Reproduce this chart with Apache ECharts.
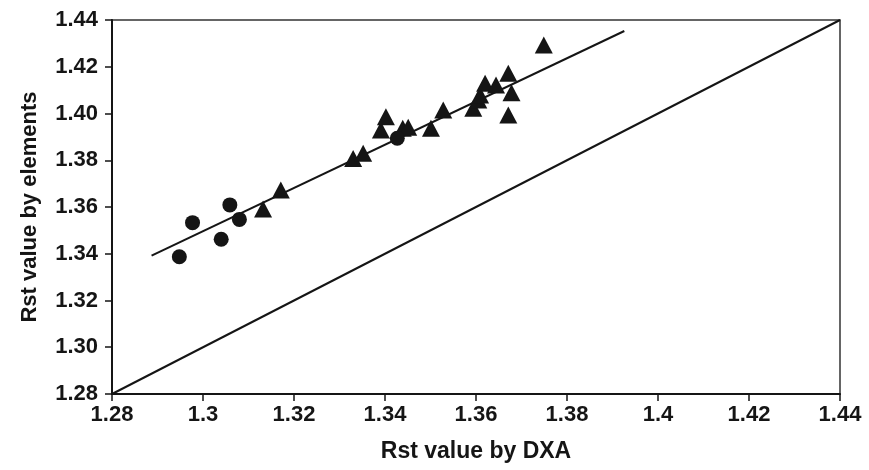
<!DOCTYPE html>
<html><head><meta charset="utf-8">
<script src="https://cdn.jsdelivr.net/npm/echarts@6/dist/echarts.min.js"></script>
<style>html,body{margin:0;padding:0;background:#fff}#c{width:869px;height:470px}</style>
</head><body><div id="c"></div>
<script>
// Circle group (x = DXA, y = elements)
const circleX = [1.2948, 1.2977, 1.3040, 1.3059, 1.3080, 1.3427];
const circleY = [1.3387, 1.3533, 1.3462, 1.3609, 1.3547, 1.3894];
// Triangle group
const triX = [1.3132, 1.3171, 1.3330, 1.3352, 1.3391, 1.3402, 1.3439, 1.3451, 1.3501, 1.3528,
              1.3594, 1.3605, 1.3609, 1.3620, 1.3644, 1.3671, 1.3678, 1.3671, 1.3749];
const triY = [1.3591, 1.3673, 1.3808, 1.3830, 1.3929, 1.3986, 1.3937, 1.3941, 1.3937, 1.4015,
              1.4022, 1.4058, 1.4079, 1.4129, 1.4122, 1.4172, 1.4089, 1.3994, 1.4293];
// Regression line endpoints
const fitX = [1.2887, 1.3926];
const fitY = [1.3392, 1.4353];
// Identity line endpoints
const idX = [1.28, 1.44];
const idY = [1.28, 1.44];
// Tick labels
const xTickLabels = ['1.28','1.3','1.32','1.34','1.36','1.38','1.4','1.42','1.44'];
const yTickLabels = ['1.28','1.30','1.32','1.34','1.36','1.38','1.40','1.42','1.44'];
const xTitle = 'Rst value by DXA';
const yTitle = 'Rst value by elements';

const zip = (a, b) => a.map((v, i) => [v, b[i]]);
const tickIdx = (v) => Math.round((v - 1.28) / 0.02);
const font = '"Liberation Sans", Arial, sans-serif';
const ink = '#151515';

const chart = echarts.init(document.getElementById('c'), null, {renderer: 'canvas'});
chart.setOption({
  animation: false,
  backgroundColor: '#fff',
  grid: {left: 112, right: 29, top: 20, bottom: 76, show: true, borderColor: '#333', borderWidth: 1.5, backgroundColor: 'transparent'},
  xAxis: {
    type: 'value', min: 1.28, max: 1.44, interval: 0.02,
    name: xTitle, nameLocation: 'middle', nameGap: 46,
    nameTextStyle: {fontFamily: font, fontWeight: 'bold', fontSize: 23, color: ink},
    axisLine: {show: true, lineStyle: {color: ink, width: 2}},
    axisTick: {show: true, inside: false, length: 7, lineStyle: {color: ink, width: 1.5}},
    axisLabel: {margin: 10, fontFamily: font, fontWeight: 'bold', fontSize: 22, color: ink,
      formatter: (v) => xTickLabels[tickIdx(v)]},
    splitLine: {show: false}
  },
  yAxis: {
    type: 'value', min: 1.28, max: 1.44, interval: 0.02,
    name: yTitle, nameLocation: 'middle', nameGap: 71, nameRotate: 90,
    nameTextStyle: {fontFamily: font, fontWeight: 'bold', fontSize: 22, color: ink},
    axisLine: {show: true, lineStyle: {color: ink, width: 2}},
    axisTick: {show: true, inside: false, length: 7, lineStyle: {color: ink, width: 1.5}},
    axisLabel: {margin: 14, fontFamily: font, fontWeight: 'bold', fontSize: 22, color: ink,
      formatter: (v) => yTickLabels[tickIdx(v)]},
    splitLine: {show: false}
  },
  series: [
    {type: 'line', data: zip(idX, idY), symbol: 'none', lineStyle: {color: ink, width: 2}, z: 2},
    {type: 'line', data: zip(fitX, fitY), symbol: 'none', lineStyle: {color: ink, width: 2}, z: 2},
    {type: 'scatter', data: zip(triX, triY), symbol: 'triangle', symbolSize: [18, 17],
      itemStyle: {color: ink, opacity: 1}, z: 3},
    {type: 'scatter', data: zip(circleX, circleY), symbol: 'circle', symbolSize: 15,
      itemStyle: {color: ink, opacity: 1}, z: 4}
  ]
});
</script></body></html>
